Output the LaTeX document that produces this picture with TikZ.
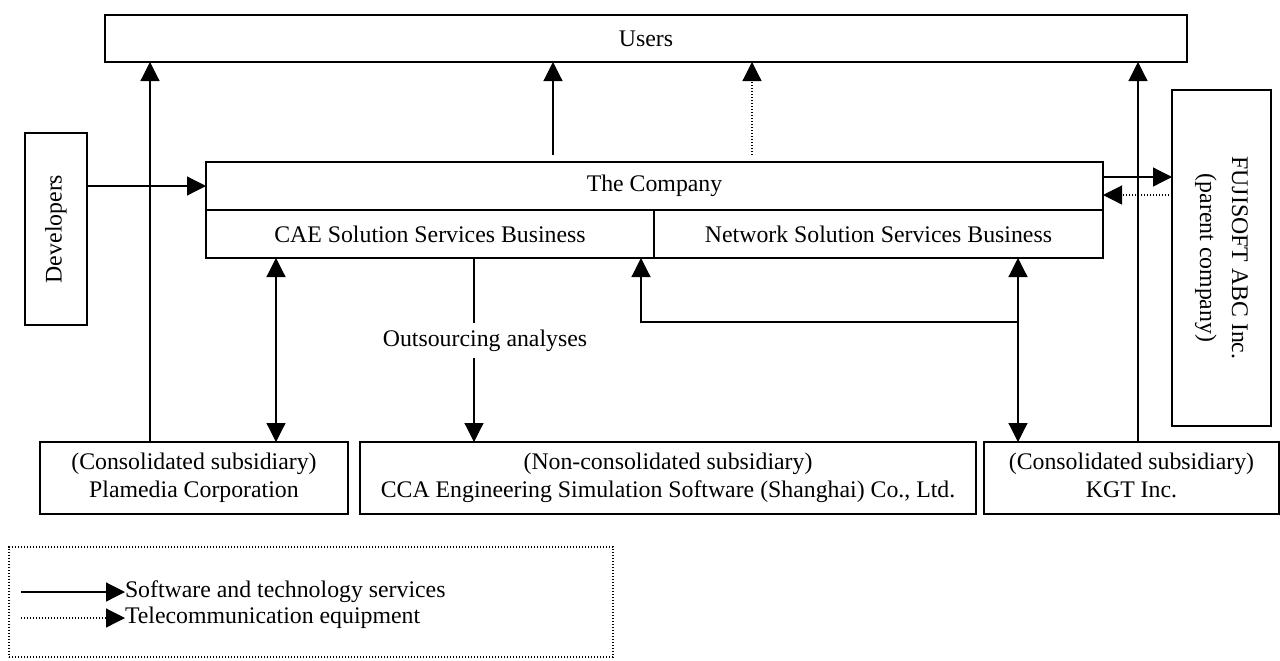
\documentclass[tikz,border=0pt]{standalone}
\usepackage{fontspec}
\setmainfont{Liberation Serif}
\usetikzlibrary{arrows.meta,calc}
\begin{document}
\begin{tikzpicture}[x=0.5pt,y=-0.5pt,
  every node/.style={font=\fontsize{11.9pt}{14pt}\selectfont, inner sep=0pt, outer sep=0pt},
  box/.style={draw, line width=0.6pt},
  ln/.style={line width=0.6pt},
  arr/.style={line width=0.6pt, -{Triangle[width=9.5pt,length=9.5pt]}},
  barr/.style={line width=0.6pt, {Triangle[width=9.5pt,length=9.5pt]}-{Triangle[width=9.5pt,length=9.5pt]}},
  dotln/.style={dash pattern=on 0.6pt off 0.9pt}
]
\useasboundingbox (0,0) rectangle (1280,660);

% boxes
\node[box, minimum width=541pt, minimum height=23.5pt] (users) at (646,38.5) {Users};
\node[box, minimum width=448.5pt, minimum height=24pt] (company) at (654.5,186) {The Company};
\node[box, minimum width=224pt, minimum height=24pt] (cae) at (430,234) {CAE Solution Services Business};
\node[box, minimum width=224.5pt, minimum height=24pt] (net) at (878.5,234) {Network Solution Services Business};
\node[box, minimum width=31pt, minimum height=96pt] (dev) at (56,229) {};
\node[rotate=90] (devtxt) at (dev.center) {Developers};
\node[box, minimum width=49.5pt, minimum height=168pt] (fuji) at (1221.5,258) {};
\node[rotate=-90, align=center, font=\fontsize{11.9pt}{16pt}\selectfont] (fujitxt) at (fuji.center) {FUJISOFT ABC Inc.\\(parent company)};
\node[box, minimum width=154pt, minimum height=36pt, align=center] (plam) at (194,478) {\strut(Consolidated subsidiary)\\\strut Plamedia Corporation};
\node[box, minimum width=308pt, minimum height=36pt, align=center] (cca) at (668,478) {\strut(Non-consolidated subsidiary)\\\strut CCA Engineering Simulation Software (Shanghai) Co., Ltd.};
\node[box, minimum width=147.5pt, minimum height=36pt, align=center] (kgt) at (1131.5,478) {\strut(Consolidated subsidiary)\\\strut KGT Inc.};
\node[minimum height=17.5pt] (outs) at (485,340.5) {Outsourcing analyses};

% helper coordinates
\coordinate (x150) at (150,0);
\coordinate (x276) at (276,0);
\coordinate (x474) at (474,0);
\coordinate (x641) at (641,0);
\coordinate (x1018) at (1018,0);
\coordinate (x1138) at (1138,0);
\coordinate (y177) at (0,177);
\coordinate (y195) at (0,195);
\coordinate (s1) at (553,155);
\coordinate (s2) at (752,155);
\coordinate (j1) at (1018,322);

% connectors
\draw[arr] (plam.north -| x150) -- (users.south -| x150);
\draw[arr] (s1) -- (users.south -| s1);
\draw[arr, dotln] (s2) -- (users.south -| s2);
\draw[arr] (kgt.north -| x1138) -- (users.south -| x1138);
\draw[arr] (dev.east |- company.west) -- (company.west);
\draw[arr] (company.east |- y177) -- (fuji.west |- y177);
\draw[arr, dotln] (fuji.west |- y195) -- (company.east |- y195);
\draw[barr] (cae.south -| x276) -- (plam.north -| x276);
\draw[ln] (cae.south -| x474) -- (outs.north -| x474);
\draw[arr] (outs.south -| x474) -- (cca.north -| x474);
\draw[barr] (net.south -| x1018) -- (kgt.north -| x1018);
\draw[arr] (j1) -| (cae.south -| x641);

% legend
\node[draw, dotln, line width=0.6pt, minimum width=302pt, minimum height=55pt] (legend) at (311,602) {};
\node[anchor=west] (leg1) at (125,592) {Software and technology services};
\node[anchor=west] (leg2) at (125,618) {Telecommunication equipment};
\coordinate (l1s) at (21,592);
\coordinate (l2s) at (21,618);
\draw[arr] (l1s) -- (leg1.west);
\draw[arr, dotln] (l2s) -- (leg2.west);
\end{tikzpicture}
\end{document}
